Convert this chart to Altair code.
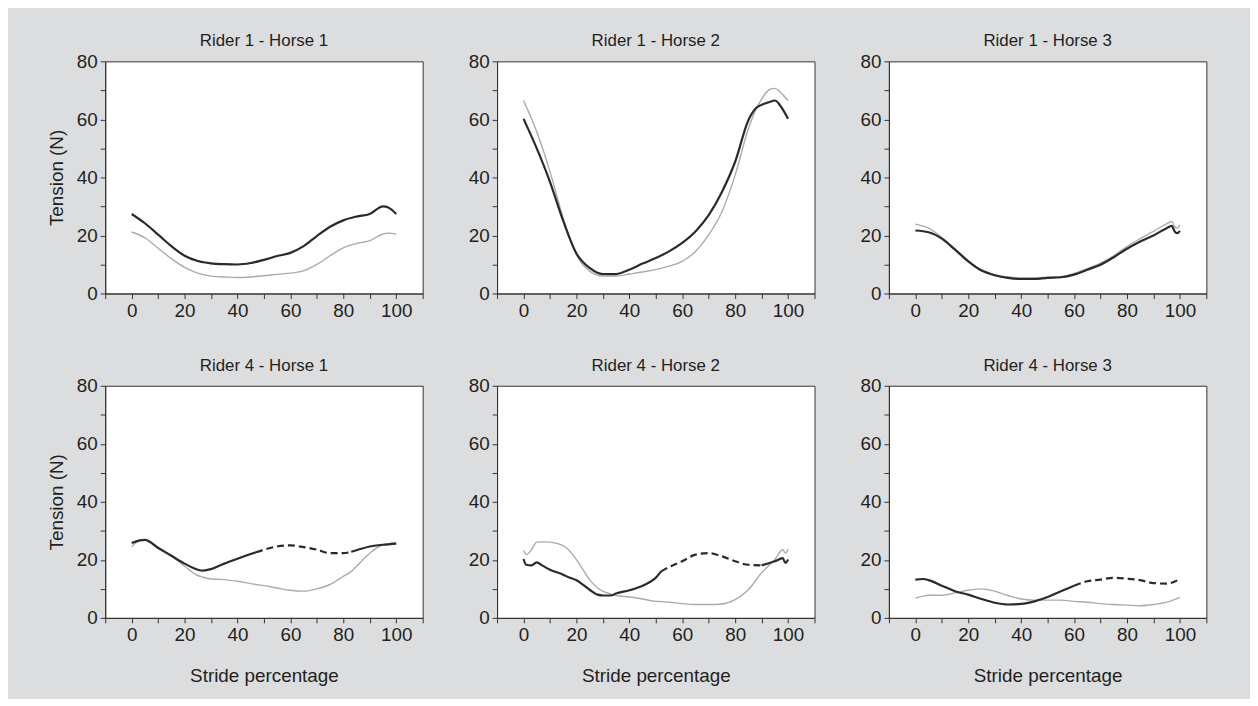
import altair as alt
import pandas as pd

# ---------------- data ----------------
titles = ["Rider 1 - Horse 1", "Rider 1 - Horse 2", "Rider 1 - Horse 3",
          "Rider 4 - Horse 1", "Rider 4 - Horse 2", "Rider 4 - Horse 3"]

r1h1_x = [0, 5, 10, 15, 20, 25, 30, 35, 40, 45, 50, 55, 60, 65, 70, 75, 80, 85, 90, 95, 97, 100]
r1h1_black = [27.4, 24.2, 20.3, 16.3, 13.0, 11.2, 10.4, 10.1, 10.0, 10.5, 11.6, 12.9, 14.0, 16.3, 19.8, 23.0, 25.2, 26.5, 27.4, 30.0, 29.6, 27.4]
r1h1_gray = [21.2, 19.2, 15.6, 12.0, 9.0, 7.0, 6.0, 5.7, 5.5, 5.7, 6.1, 6.6, 7.0, 7.8, 10.0, 13.0, 15.7, 17.2, 18.2, 20.5, 20.8, 20.5]

r1h2_x = [0, 5, 10, 15, 20, 25, 30, 35, 40, 45, 50, 55, 60, 65, 70, 75, 80, 85, 88, 90, 93, 95, 97, 100]
r1h2_black = [60.2, 50.0, 38.5, 25.0, 13.8, 8.8, 6.7, 6.7, 8.2, 10.3, 12.2, 14.5, 17.4, 21.4, 27.0, 35.0, 45.4, 59.7, 64.0, 65.0, 66.0, 66.5, 64.8, 60.2]
r1h2_gray = [66.5, 55.7, 42.0, 26.0, 13.4, 7.7, 6.0, 6.0, 6.7, 7.4, 8.2, 9.4, 11.1, 14.5, 20.2, 28.2, 40.8, 56.8, 63.7, 67.0, 70.3, 70.7, 69.4, 66.5]

r1h3_x = [0, 5, 10, 15, 20, 25, 30, 35, 40, 45, 50, 55, 60, 65, 70, 75, 80, 85, 90, 95, 97, 98, 99, 100]
r1h3_black = [21.7, 21.1, 18.9, 15.1, 11.1, 7.9, 6.3, 5.4, 5.0, 5.0, 5.4, 5.6, 6.5, 8.2, 9.9, 12.5, 15.4, 17.9, 20.0, 22.5, 23.3, 21.4, 20.8, 21.6]
r1h3_gray = [23.9, 22.5, 19.3, 15.4, 11.3, 8.2, 6.5, 5.7, 5.4, 5.4, 5.6, 5.8, 6.9, 8.6, 10.5, 13.0, 16.2, 18.9, 21.4, 24.0, 24.8, 23.1, 22.5, 23.7]

r4h1_x = [0, 3, 5, 10, 15, 20, 25, 27, 30, 35, 40, 45, 47, 50, 55, 60, 65, 70, 75, 80, 83, 85, 90, 95, 100]
r4h1_black = [25.8, 26.7, 26.9, 24.1, 21.4, 18.7, 16.6, 16.3, 16.8, 18.7, 20.4, 22.0, 22.6, 23.5, 24.6, 25.0, 24.4, 23.5, 22.3, 22.3, 22.8, 23.3, 24.6, 25.2, 25.6]
r4h1_gray = [24.6, 26.6, 26.9, 24.4, 21.4, 17.8, 14.6, 14.0, 13.4, 13.2, 12.6, 11.8, 11.5, 11.1, 10.3, 9.5, 9.2, 10.0, 11.5, 14.3, 16.0, 17.8, 22.3, 25.2, 25.8]
r4h1_dash = (47, 83)

r4h2_x = [0, 1, 3, 5, 7, 10, 15, 17, 20, 25, 28, 30, 33, 35, 40, 45, 50, 52, 55, 60, 65, 70, 75, 80, 85, 90, 95, 98, 99, 100]
r4h2_black = [20.3, 18.3, 18.1, 19.1, 18.1, 16.6, 14.9, 14.0, 13.0, 9.7, 8.0, 7.7, 7.7, 8.4, 9.5, 11.1, 13.8, 16.0, 17.5, 19.5, 21.8, 22.3, 21.2, 19.5, 18.3, 18.1, 19.5, 20.6, 18.9, 20.1]
r4h2_gray = [23.3, 21.8, 23.5, 26.1, 26.2, 26.1, 24.9, 23.5, 20.1, 13.2, 10.3, 9.2, 8.2, 7.7, 7.2, 6.5, 5.7, 5.6, 5.4, 4.9, 4.6, 4.6, 4.8, 6.3, 9.7, 15.5, 20.1, 23.5, 22.3, 23.7]
r4h2_dash = (52, 90)

r4h3_x = [0, 3, 5, 10, 15, 20, 25, 30, 35, 40, 45, 50, 55, 60, 65, 70, 75, 80, 85, 90, 95, 100]
r4h3_black = [13.2, 13.4, 13.0, 11.1, 9.2, 8.0, 6.5, 5.2, 4.6, 4.8, 5.7, 7.2, 9.2, 11.1, 12.6, 13.2, 13.8, 13.5, 13.0, 12.0, 11.8, 13.4]
r4h3_gray = [6.8, 7.5, 7.8, 7.8, 8.6, 9.5, 10.0, 9.2, 7.7, 6.5, 6.1, 6.1, 6.1, 5.7, 5.4, 4.9, 4.6, 4.4, 4.2, 4.6, 5.4, 7.1]
r4h3_dash = (60, 100)

x_ticks = list(range(-10, 111, 10))
y_ticks = list(range(0, 81, 10))

FONT = "Liberation Sans"
TXT = "#231f20"


def make_df(xs, black, gray, dash):
    rows = []
    for x, y in zip(xs, gray):
        rows.append({"x": x, "y": y, "kind": "gray", "seg": "g"})
    for x, y in zip(xs, black):
        if dash is None:
            rows.append({"x": x, "y": y, "kind": "solid", "seg": "s0"})
            continue
        d0, d1 = dash
        if x <= d0:
            rows.append({"x": x, "y": y, "kind": "solid", "seg": "s0"})
        if d0 <= x <= d1:
            rows.append({"x": x, "y": y, "kind": "dash", "seg": "d"})
        if x >= d1:
            rows.append({"x": x, "y": y, "kind": "solid", "seg": "s1"})
    return pd.DataFrame(rows)


def panel(title, xs, black, gray, dash, col, row):
    df = make_df(xs, black, gray, dash)
    xaxis = alt.Axis(
        values=x_ticks,
        labelExpr="(datum.value % 20 == 0 && datum.value >= 0 && datum.value <= 100) ? datum.label : ''",
        title="Stride percentage" if row == 1 else None,
        titlePadding=22,
    )
    yaxis = alt.Axis(
        values=y_ticks,
        labelExpr="datum.value % 20 == 0 ? datum.label : ''",
        title="Tension (N)",
        titleOpacity=1 if col == 0 else 0,
        titlePadding=10,
    )
    base = alt.Chart(df).encode(
        x=alt.X("x:Q", scale=alt.Scale(domain=[-10, 110], nice=False, zero=False), axis=xaxis),
        y=alt.Y("y:Q", scale=alt.Scale(domain=[0, 80], nice=False), axis=yaxis),
    )
    g = base.transform_filter("datum.kind == 'gray'").mark_line(
        color="#ababab", strokeWidth=1.4, interpolate="monotone")
    s = base.transform_filter("datum.kind == 'solid'").mark_line(
        color="#2a2a2a", strokeWidth=2.2, interpolate="monotone").encode(detail="seg:N")
    layers = [g, s]
    if dash is not None:
        d = base.transform_filter("datum.kind == 'dash'").mark_line(
            color="#2a2a2a", strokeWidth=2.2, interpolate="monotone", strokeDash=[7, 4])
        layers.append(d)
    return alt.layer(*layers).properties(
        width=320, height=234,
        title=alt.TitleParams(text=title, fontSize=17, fontWeight="normal", font=FONT,
                              color=TXT, frame="group", anchor="middle", offset=2),
    )


data = [
    (r1h1_x, r1h1_black, r1h1_gray, None),
    (r1h2_x, r1h2_black, r1h2_gray, None),
    (r1h3_x, r1h3_black, r1h3_gray, None),
    (r4h1_x, r4h1_black, r4h1_gray, r4h1_dash),
    (r4h2_x, r4h2_black, r4h2_gray, r4h2_dash),
    (r4h3_x, r4h3_black, r4h3_gray, r4h3_dash),
]

panels = [panel(titles[i], *data[i], col=i % 3, row=i // 3) for i in range(6)]

top = alt.hconcat(*panels[:3], spacing=15)
bottom = alt.hconcat(*panels[3:], spacing=15)

chart = alt.vconcat(top, bottom, spacing=35).configure(
    background="#dcdddf",
    padding={"top": 21, "left": 39, "right": 43, "bottom": 10},
    font=FONT,
).configure_view(
    stroke="#333333", strokeWidth=1, fill="white"
).configure_title(
    fontWeight="normal", fontSize=17, font=FONT, color=TXT
).configure_axis(
    grid=False,
    labelFont=FONT, labelFontSize=19, labelColor=TXT, labelPadding=3,
    titleFont=FONT, titleFontSize=19, titleColor=TXT, titleFontWeight="normal",
    tickColor="#333333", tickSize=5, tickWidth=1,
    domainColor="#333333", domainWidth=1,
)

chart.save("out.html", embed_options={"renderer": "svg", "actions": False})
